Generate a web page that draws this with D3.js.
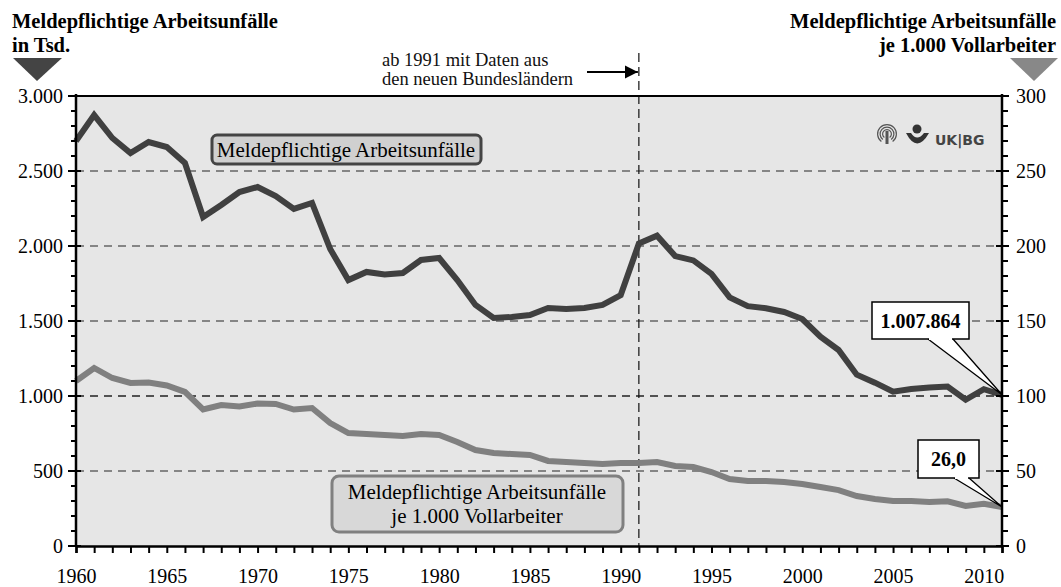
<!DOCTYPE html>
<html>
<head>
<meta charset="utf-8">
<script src="https://cdn.jsdelivr.net/npm/d3@7"></script>
<style>
  body { margin: 0; background: #fff; }
  text { font-family: "Liberation Serif", "Times New Roman", serif; }
</style>
</head>
<body>
<svg width="1061" height="587"></svg>
<script>
// years 1960..2011
var years = d3.range(1960, 2012);

// meldepflichtige Arbeitsunfaelle in Tsd.
var accidents = [2700, 2873, 2720, 2620, 2693, 2660, 2553, 2193, 2273, 2360,
                 2393, 2333, 2247, 2287, 1980, 1773, 1827, 1810, 1820, 1907,
                 1920, 1773, 1607, 1520, 1527, 1540, 1587, 1580, 1587, 1607,
                 1673, 2016, 2069, 1933, 1904, 1814, 1657, 1599, 1585, 1560,
                 1513, 1395, 1307, 1142, 1089, 1029, 1047, 1056, 1063, 975,
                 1045, 1008];

// je 1.000 Vollarbeiter
var rate = [110, 118.7, 112, 108.7, 109, 107, 102.7, 91, 94, 93,
            95, 94.7, 91, 92, 82, 75.3, 74.7, 74, 73.3, 74.7,
            74, 69.3, 64, 62, 61.3, 60.7, 56.7, 56, 55.3, 54.7,
            55.3, 55.3, 56, 53.3, 52.7, 49.3, 44.7, 43.3, 43.3, 42.7,
            41.3, 39.3, 37.3, 33.3, 31.3, 30, 30, 29.3, 29.8, 26.7,
            28.1, 26.0];

var leftTicks = [0, 500, 1000, 1500, 2000, 2500, 3000];
var rightTicks = [0, 50, 100, 150, 200, 250, 300];
var xLabels = [1960, 1965, 1970, 1975, 1980, 1985, 1990, 1995, 2000, 2005, 2010];
var lastTotal = "1.007.864";

var svg = d3.select("svg");
var pLeft = 76, pRight = 1002, pTop = 96, pBottom = 546;

var x = d3.scaleLinear().domain([1960, 2011]).range([pLeft, pRight]);
var yL = d3.scaleLinear().domain([0, 3000]).range([pBottom, pTop]);
var yR = d3.scaleLinear().domain([0, 300]).range([pBottom, pTop]);
var deFmt = function(v) { return d3.format(",")(v).replace(/,/g, "."); };

// plot background
svg.append("rect").attr("x", pLeft).attr("y", pTop)
   .attr("width", pRight - pLeft).attr("height", pBottom - pTop)
   .attr("fill", "#e6e6e6");

// grid lines
svg.append("g").selectAll("line").data([500, 1000, 1500, 2000, 2500]).enter()
   .append("line")
   .attr("x1", pLeft).attr("x2", pRight)
   .attr("y1", function(d) { return yL(d); }).attr("y2", function(d) { return yL(d); })
   .attr("stroke", function(d) { return d === 1000 ? "#222" : "#666"; })
   .attr("stroke-width", 1.3)
   .attr("stroke-dasharray", "8,6");

// 1991 marker
svg.append("line")
   .attr("x1", x(1991)).attr("x2", x(1991))
   .attr("y1", 53).attr("y2", pBottom)
   .attr("stroke", "#111").attr("stroke-width", 1.2)
   .attr("stroke-dasharray", "9,5");

// lines
var line = function(yScale, vals) {
  return d3.line().x(function(d, i) { return x(years[i]); })
                  .y(function(d) { return yScale(d); })(vals);
};
svg.append("path").attr("d", line(yL, accidents))
   .attr("fill", "none").attr("stroke", "#404040").attr("stroke-width", 6)
   .attr("stroke-linejoin", "miter");
svg.append("path").attr("d", line(yR, rate))
   .attr("fill", "none").attr("stroke", "#808080").attr("stroke-width", 6)
   .attr("stroke-linejoin", "miter");

// top frame line
svg.append("line").attr("x1", pLeft).attr("x2", pRight).attr("y1", pTop).attr("y2", pTop)
   .attr("stroke", "#000").attr("stroke-width", 2);

// left axis
var minorL = d3.range(0, 3001, 100);
var gL = svg.append("g").attr("transform", "translate(" + pLeft + ",0)");
gL.selectAll("line.t").data(minorL).enter().append("line")
  .attr("x1", function(d) { return d % 500 === 0 ? -8 : -5; })
  .attr("x2", function(d) { return d % 500 === 0 ? 5 : 0; })
  .attr("y1", function(d) { return yL(d); }).attr("y2", function(d) { return yL(d); })
  .attr("stroke", "#000").attr("stroke-width", 2);
gL.append("line").attr("x1", 0).attr("x2", 0).attr("y1", pTop - 2).attr("y2", pBottom)
  .attr("stroke", "#000").attr("stroke-width", 2.5);
gL.selectAll("text").data(leftTicks).enter().append("text")
  .attr("x", -13).attr("y", function(d) { return yL(d) + 7; })
  .attr("text-anchor", "end").style("font-size", "20px")
  .text(function(d) { return deFmt(d); });

// right axis
var minorR = d3.range(0, 301, 10);
var gR = svg.append("g").attr("transform", "translate(" + pRight + ",0)");
gR.selectAll("line.t").data(minorR).enter().append("line")
  .attr("x1", function(d) { return d % 50 === 0 ? -6 : 0; })
  .attr("x2", function(d) { return d % 50 === 0 ? 7 : 6; })
  .attr("y1", function(d) { return yR(d); }).attr("y2", function(d) { return yR(d); })
  .attr("stroke", "#000").attr("stroke-width", 2);
gR.append("line").attr("x1", 0).attr("x2", 0).attr("y1", pTop - 2).attr("y2", pBottom)
  .attr("stroke", "#000").attr("stroke-width", 2.5);
gR.selectAll("text").data(rightTicks).enter().append("text")
  .attr("x", 14).attr("y", function(d) { return yR(d) + 7; })
  .attr("text-anchor", "start").style("font-size", "20px")
  .text(function(d) { return d; });

// bottom axis
var xAxis = d3.axisBottom(x).tickValues(years).tickSize(7)
  .tickFormat(function(d) { return xLabels.indexOf(d) >= 0 ? d : ""; });
var gX = svg.append("g").attr("transform", "translate(0," + pBottom + ")").call(xAxis);
gX.select(".domain").attr("stroke", "#000").attr("stroke-width", 2.5);
gX.selectAll(".tick line").attr("stroke", "#000").attr("stroke-width", 2);
gX.selectAll(".tick text").style("font-size", "20px").attr("fill", "#000")
  .attr("dy", null).attr("y", 37);

// titles
var tl = svg.append("text").attr("x", 12).attr("y", 28)
  .style("font-size", "20.5px").attr("font-weight", "bold");
tl.append("tspan").attr("x", 12).text("Meldepflichtige Arbeitsunfälle");
tl.append("tspan").attr("x", 12).attr("dy", 24).text("in Tsd.");
var tr = svg.append("text").attr("x", 1056).attr("y", 28)
  .style("font-size", "20.5px").attr("font-weight", "bold").attr("text-anchor", "end");
tr.append("tspan").attr("x", 1056).text("Meldepflichtige Arbeitsunfälle");
tr.append("tspan").attr("x", 1056).attr("dy", 24).text("je 1.000 Vollarbeiter");

// triangles
svg.append("path").attr("d", "M13,58 L62,58 L37,81 Z").attr("fill", "#444");
svg.append("path").attr("d", "M1010,58 L1058,58 L1034,81 Z").attr("fill", "#888");

// annotation
var an = svg.append("text").attr("x", 382).attr("y", 66).style("font-size", "18.5px").attr("fill", "#111");
an.append("tspan").attr("x", 382).text("ab 1991 mit Daten aus");
an.append("tspan").attr("x", 382).attr("dy", 19).text("den neuen Bundesländern");
svg.append("defs").append("marker").attr("id", "arr")
   .attr("viewBox", "0 0 10 10").attr("refX", 10).attr("refY", 5)
   .attr("markerWidth", 6).attr("markerHeight", 6).attr("orient", "auto")
   .append("path").attr("d", "M0,0 L10,5 L0,10 Z").attr("fill", "#000");
svg.append("line").attr("x1", 587).attr("x2", x(1991) - 1).attr("y1", 72).attr("y2", 72)
   .attr("stroke", "#000").attr("stroke-width", 2.2).attr("marker-end", "url(#arr)");

// legend boxes
svg.append("rect").attr("x", 212).attr("y", 135).attr("width", 269).attr("height", 29)
   .attr("rx", 5).attr("fill", "#d0d0d0").attr("stroke", "#444").attr("stroke-width", 3);
svg.append("text").attr("x", 346).attr("y", 157).attr("text-anchor", "middle")
   .style("font-size", "21px").text("Meldepflichtige Arbeitsunfälle");

svg.append("rect").attr("x", 332).attr("y", 476).attr("width", 291).attr("height", 56)
   .attr("rx", 7).attr("fill", "#d8d8d8").attr("stroke", "#808080").attr("stroke-width", 3);
var lg2 = svg.append("text").attr("x", 477).attr("y", 499).attr("text-anchor", "middle").style("font-size", "21px");
lg2.append("tspan").attr("x", 477).text("Meldepflichtige Arbeitsunfälle");
lg2.append("tspan").attr("x", 477).attr("dy", 24).text("je 1.000 Vollarbeiter");

// callouts
function callout(bx, by, bw, bh, p1, p2, px, py, label) {
  var g = svg.append("g");
  g.append("path")
   .attr("d", "M" + p1 + "," + (by + bh) + " L" + px + "," + py + " L" + p2 + "," + (by + bh))
   .attr("fill", "#fff").attr("stroke", "#000").attr("stroke-width", 1.3);
  g.append("rect").attr("x", bx).attr("y", by).attr("width", bw).attr("height", bh)
   .attr("fill", "#fff").attr("stroke", "#000").attr("stroke-width", 1.5);
  g.append("line").attr("x1", p1 + 1).attr("x2", p2 - 1).attr("y1", by + bh).attr("y2", by + bh)
   .attr("stroke", "#fff").attr("stroke-width", 2);
  g.append("text").attr("x", bx + bw / 2).attr("y", by + bh / 2 + 7)
   .attr("text-anchor", "middle").style("font-size", "20px").attr("font-weight", "bold").text(label);
}
callout(872, 302, 97, 37, 928, 953, x(2011), yL(accidents[51]), lastTotal);
callout(918, 440, 61, 38, 954, 969, x(2011), yR(rate[51]), d3.format(".1f")(rate[51]).replace(".", ","));

// logo
[10, 7.5, 5].forEach(function(r) {
  svg.append("path")
     .attr("d", d3.arc()({ innerRadius: r - 1.2, outerRadius: r, startAngle: -2.5, endAngle: 2.5 }))
     .attr("transform", "translate(887,134)").attr("fill", "#555");
});
svg.append("rect").attr("x", 885.5).attr("y", 131).attr("width", 3).attr("height", 13).attr("fill", "#555");
svg.append("circle").attr("cx", 917).attr("cy", 129).attr("r", 4.5).attr("fill", "#333");
svg.append("path").attr("d", "M906,133 Q917,154 929,133 L924,133 Q917,142 911,133 Z").attr("fill", "#333");
svg.append("text").attr("x", 935).attr("y", 145)
   .style("font-family", "'DejaVu Sans', sans-serif").style("font-size", "14px")
   .attr("font-weight", "bold").attr("fill", "#444").text("UK|BG");
</script>
</body>
</html>
